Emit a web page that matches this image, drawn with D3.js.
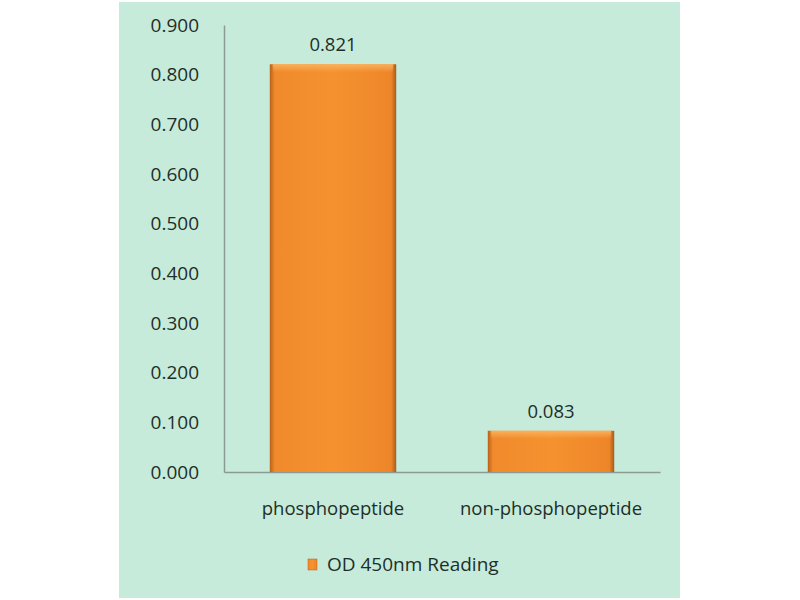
<!DOCTYPE html>
<html><head><meta charset="utf-8">
<script src="https://cdn.jsdelivr.net/npm/d3@7"></script>
<style>body{margin:0;background:#fff}svg{display:block}text{font-family:"Open Sans",sans-serif;fill:#1f2e29}</style>
</head><body>
<script>
const categories = ["phosphopeptide", "non-phosphopeptide"];
const values = [0.821, 0.083];
const valueLabels = ["0.821", "0.083"];
const yTicks = [0, 0.1, 0.2, 0.3, 0.4, 0.5, 0.6, 0.7, 0.8, 0.9];
const seriesName = "OD 450nm Reading";

const W = 800, H = 600;
const svg = d3.select("body").append("svg").attr("width", W).attr("height", H);
const defs = svg.append("defs");
const g1 = defs.append("linearGradient").attr("id", "barH").attr("x1", 0).attr("x2", 1).attr("y1", 0).attr("y2", 0);
g1.append("stop").attr("offset", 0).attr("stop-color", "#b8611a");
g1.append("stop").attr("offset", 0.04).attr("stop-color", "#f08a2c");
g1.append("stop").attr("offset", 0.5).attr("stop-color", "#f5922f");
g1.append("stop").attr("offset", 0.96).attr("stop-color", "#ee8629");
g1.append("stop").attr("offset", 1).attr("stop-color", "#a85a1c");
const g2 = defs.append("linearGradient").attr("id", "barV").attr("x1", 0).attr("x2", 0).attr("y1", 0).attr("y2", 1);
g2.append("stop").attr("offset", 0).attr("stop-color", "#fbb560").attr("stop-opacity", 0.9);
g2.append("stop").attr("offset", 1).attr("stop-color", "#fbb560").attr("stop-opacity", 0);

// panel
svg.append("rect").attr("x", 119).attr("y", 2).attr("width", 561).attr("height", 596).attr("fill", "#c6ebda");

const x = d3.scaleBand().domain(categories).range([224, 660]).paddingInner(0.42).paddingOuter(0.21);
const y = d3.scaleLinear().domain([0, 0.9]).range([472, 25]);

// y axis
const yAxis = d3.axisLeft(y).tickValues(yTicks).tickFormat(d3.format(".3f")).tickSize(0).tickPadding(25);
const ya = svg.append("g").attr("transform", "translate(224,0)").call(yAxis);
ya.select(".domain").attr("stroke", "#8a9a94").attr("stroke-width", 1.5);
ya.selectAll("text").attr("font-size", 19).attr("fill", "#1f2e29").style("font-family", '"Open Sans",sans-serif');

// x axis
const xAxis = d3.axisBottom(x).tickSize(0).tickPadding(30);
const xa = svg.append("g").attr("transform", "translate(0,472)").call(xAxis);
xa.select(".domain").attr("stroke", "#8a9a94").attr("stroke-width", 1.5);
xa.selectAll("text").attr("font-size", 18.5).attr("fill", "#1f2e29").style("font-family", '"Open Sans",sans-serif');

// bars
const bars = svg.append("g").selectAll("g").data(categories).join("g");
bars.append("rect")
  .attr("x", d => x(d)).attr("width", x.bandwidth())
  .attr("y", (d, i) => y(values[i])).attr("height", (d, i) => y(0) - y(values[i]))
  .attr("fill", "url(#barH)");
bars.append("rect")
  .attr("x", d => x(d) + 3).attr("width", x.bandwidth() - 6)
  .attr("y", (d, i) => y(values[i])).attr("height", 8)
  .attr("fill", "url(#barV)");
bars.append("text")
  .attr("x", d => x(d) + x.bandwidth() / 2)
  .attr("y", (d, i) => y(values[i]) - 13)
  .attr("text-anchor", "middle").attr("font-size", 18.5)
  .text((d, i) => valueLabels[i]);

// legend
const lg = svg.append("g").attr("transform", "translate(308,559)");
lg.append("rect").attr("width", 9).attr("height", 11).attr("fill", "url(#barH)").attr("stroke", "#b8611a").attr("stroke-width", 0.5);
lg.append("text").attr("x", 19).attr("y", 12).attr("font-size", 19).text(seriesName);
</script>
</body></html>
